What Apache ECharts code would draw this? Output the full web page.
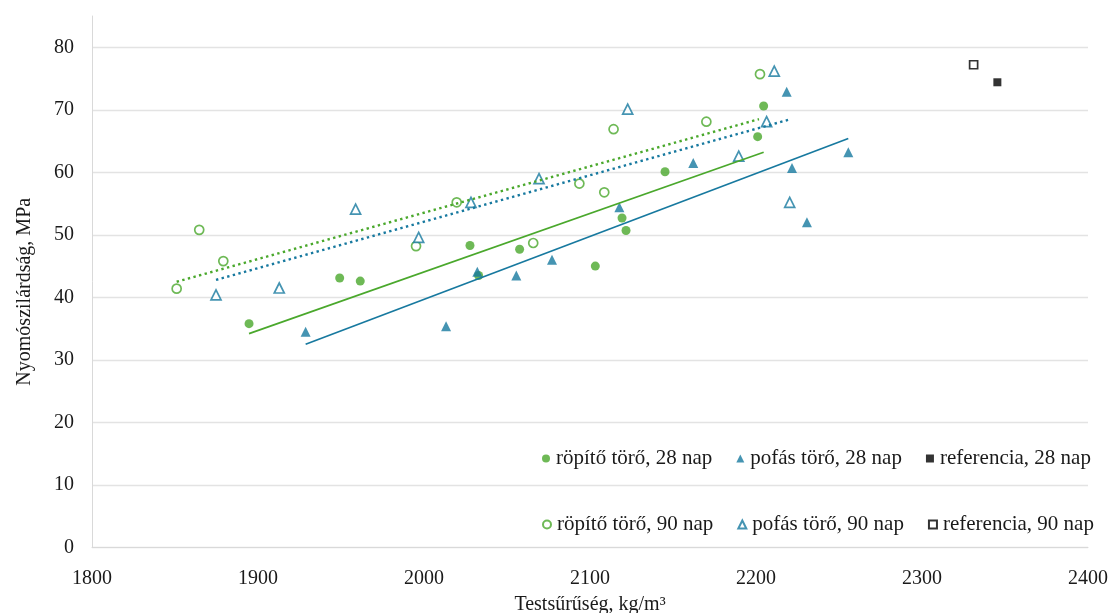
<!DOCTYPE html>
<html>
<head>
<meta charset="utf-8">
<script src="https://cdn.jsdelivr.net/npm/echarts@6/dist/echarts.min.js"></script>
<style>
html,body{margin:0;padding:0;background:#fff;}
#chart{width:1112px;height:613px;}
</style>
</head>
<body>
<div id="chart"></div>
<script>
// ---- data ----
const xTicks = [1800, 1900, 2000, 2100, 2200, 2300, 2400];
const yTicks = [0, 10, 20, 30, 40, 50, 60, 70, 80];

const names = [
  'röpítő törő, 28 nap', 'pofás törő, 28 nap', 'referencia, 28 nap',
  'röpítő törő, 90 nap', 'pofás törő, 90 nap', 'referencia, 90 nap'
];

const ropito28 = [[1894.6,35.8],[1949.2,43.1],[1961.6,42.6],[2027.7,48.3],[2032.9,43.5],[2057.6,47.7],[2103.2,45.0],[2119.3,52.7],[2121.7,50.7],[2145.2,60.1],[2201.0,65.7],[2204.6,70.6]];
const pofas28 = [[1928.7,34.5],[2013.3,35.4],[2032.1,44.1],[2055.6,43.5],[2077.1,46.0],[2117.7,54.4],[2162.2,61.5],[2218.5,72.9],[2221.7,60.7],[2230.7,52.0],[2255.6,63.2]];
const referencia28 = [[2345.4,74.4]];
const ropito90 = [[1851.0,41.4],[1864.6,50.8],[1879.1,45.8],[1995.2,48.2],[2019.7,55.2],[2065.8,48.7],[2093.6,58.2],[2108.6,56.8],[2114.2,66.9],[2170.1,68.1],[2202.4,75.7]];
const pofas90 = [[1874.7,40.4],[1912.8,41.5],[1958.8,54.1],[1996.8,49.6],[2028.3,55.2],[2069.3,59.0],[2122.7,70.1],[2189.6,62.6],[2206.4,68.1],[2211.0,76.2],[2220.3,55.2]];
const referencia90 = [[2331.1,77.2]];

// trend line end points (linear trendlines)
const trendRopito28 = [[1894.6,34.2],[2204.6,63.2]];
const trendPofas28 = [[1928.7,32.5],[2255.6,65.4]];
const trendRopito90 = [[1851.0,42.5],[2201.8,68.5]];
const trendPofas90 = [[1874.7,42.8],[2219.5,68.4]];

// ---- styles ----
const GREEN = '#4AA82C';
const BLUE = '#17799F';
const BLACK = '#000000';
const FONT = '"Liberation Serif", "Times New Roman", serif';

function scatter(name, data, symbol, size, color, filled) {
  return {
    name: name, type: 'scatter', data: data, symbol: symbol, symbolSize: size,
    itemStyle: filled ? { color: color } : { color: '#ffffff', borderColor: color, borderWidth: 1.7 },
    emphasis: { disabled: true }, z: 3
  };
}
function trend(data, color, dotted) {
  return {
    type: 'line', data: data, symbol: 'none', silent: true, z: 4,
    lineStyle: { color: color, width: dotted ? 2.4 : 1.7, type: dotted ? [2.4, 3.4] : 'solid' }
  };
}

const chart = echarts.init(document.getElementById('chart'), null, { renderer: 'canvas' });
const legendCommon = {
  left: 537, orient: 'horizontal', itemWidth: 8, itemHeight: 8, itemGap: 24,
  textStyle: { fontFamily: FONT, fontSize: 21, color: '#1a1a1a', padding: [0, 0, 0, 1] },
  selectedMode: false
};
chart.setOption({
  animation: false,
  backgroundColor: '#ffffff',
  textStyle: { fontFamily: FONT },
  grid: { left: 92, right: 24, top: 16, bottom: 65.5, containLabel: false, outerBoundsMode: 'none' },
  legend: [
    Object.assign({ top: 443, data: names.slice(0, 3) }, legendCommon),
    Object.assign({ top: 509, data: names.slice(3, 6) }, legendCommon)
  ],
  xAxis: {
    type: 'value', min: xTicks[0], max: xTicks[xTicks.length - 1], interval: 100,
    name: 'Testsűrűség, kg/m³', nameLocation: 'middle', nameGap: 47,
    nameTextStyle: { fontFamily: FONT, fontSize: 20, color: '#1a1a1a' },
    axisLine: { show: true, lineStyle: { color: '#d9d9d9', width: 1 } },
    axisTick: { show: false },
    splitLine: { show: false },
    axisLabel: { fontFamily: FONT, fontSize: 20, color: '#1a1a1a', margin: 21,
      formatter: function (v) { return String(v); } }
  },
  yAxis: {
    type: 'value', min: yTicks[0], max: 85, interval: 10,
    name: 'Nyomószilárdság, MPa', nameLocation: 'middle', nameGap: 57, nameRotate: 90,
    nameTextStyle: { fontFamily: FONT, fontSize: 20, color: '#1a1a1a', padding: [0, 20, 0, 0] },
    axisLine: { show: true, lineStyle: { color: '#d9d9d9', width: 1 } },
    axisTick: { show: false },
    splitLine: { show: true, showMaxLine: false, lineStyle: { color: '#e3e3e3', width: 1.3 } },
    axisLabel: { fontFamily: FONT, fontSize: 20, color: '#1a1a1a', margin: 18, showMaxLabel: false,
      formatter: function (v) { return yTicks.indexOf(v) >= 0 ? String(v) : ''; } }
  },
  series: [
    scatter(names[0], ropito28, 'circle', 9, GREEN, true),
    scatter(names[1], pofas28, 'triangle', 10, BLUE, true),
    scatter(names[2], referencia28, 'rect', 8, BLACK, true),
    scatter(names[3], ropito90, 'circle', 9, GREEN, false),
    scatter(names[4], pofas90, 'triangle', 10, BLUE, false),
    scatter(names[5], referencia90, 'rect', 8, BLACK, false),
    trend(trendRopito28, GREEN, false),
    trend(trendPofas28, BLUE, false),
    trend(trendRopito90, GREEN, true),
    trend(trendPofas90, BLUE, true)
  ]
});
</script>
</body>
</html>
